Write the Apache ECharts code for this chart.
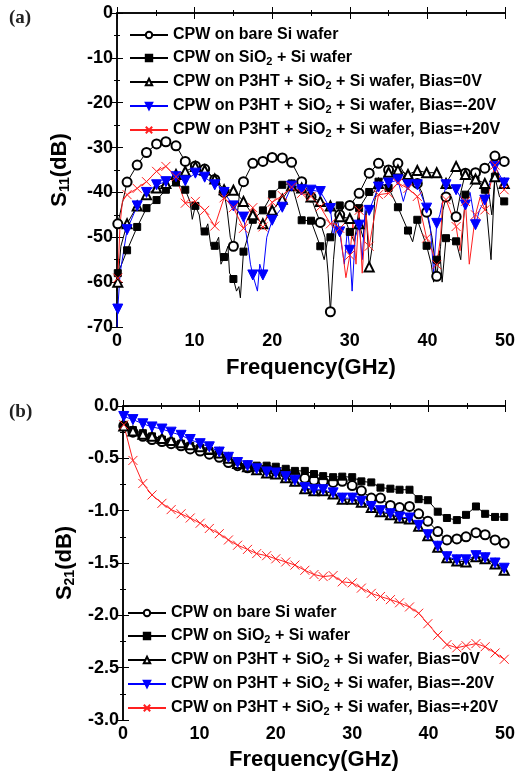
<!DOCTYPE html>
<html>
<head>
<meta charset="utf-8">
<script src="https://cdn.jsdelivr.net/npm/echarts@6/dist/echarts.min.js"></script>
<style>
  html, body { margin: 0; padding: 0; background: #fff; }
  #chart { width: 518px; height: 778px; }
</style>
</head>
<body>
<div id="chart"></div>
<script>
// marker positions (GHz), same grid on every curve
const markFreq = [0.1, 1.3, 2.6, 3.8, 5.1, 6.3, 7.6, 8.8, 10.1, 11.3, 12.6, 13.8, 15.0, 16.3, 17.5, 18.8, 20.0, 21.3, 22.5, 23.8,
  25.0, 26.2, 27.5, 28.7, 30.0, 31.2, 32.5, 33.7, 35.0, 36.2, 37.5, 38.7, 39.9, 41.2, 42.4, 43.7, 44.9, 46.2, 47.4, 48.7, 49.9];

const legendNames = [
  'CPW on bare Si wafer',
  'CPW on SiO2 + Si wafer',
  'CPW on P3HT + SiO2 + Si wafer, Bias=0V',
  'CPW on P3HT + SiO2 + Si wafer, Bias=-20V',
  'CPW on P3HT + SiO2 + Si wafer, Bias=+20V'
];

// (a) S11 (dB) at the markers
const s11Bare = [-47, -37.7, -33.9, -31.1, -29.2, -28.7, -29.6, -33.1, -34.1, -34.8, -37.1, -40, -52, -37.6, -33.5, -33.1, -32.2, -32.3, -33.3, -37.6,
  -41, -46.7, -66.6, -45, -42.9, -40.2, -35.7, -33.5, -35, -33.5, -37, -38, -44.4, -58.7, -41, -45.4, -35.7, -35.6, -34.6, -31.9, -33.1];
const s11SiO2 = [-58, -52.9, -47.7, -43.5, -41.7, -39.4, -37.8, -39.4, -43.0, -48.7, -51.9, -54.4, -59.3, -53.2, -46.1, -44, -40.4, -38.3, -38, -46.2,
  -46.3, -52, -50, -42.9, -48.8, -43.5, -39.9, -37.6, -39, -43.3, -48.5, -46.1, -51.9, -55, -50.2, -50.9, -40.5, -37.3, -39.4, -36.5, -42];
const s11Bias0 = [-60, -47, -43, -40.5, -39, -38, -36, -35.3, -34.2, -35, -37, -39.4, -39.5, -42, -45, -47, -44, -41.5, -38.5, -39,
  -41, -42, -43, -45.4, -45.8, -47, -56.6, -38, -35.5, -35, -36, -35.1, -35.6, -35.6, -38, -34.2, -36, -37, -38, -36.5, -38];
const s11BiasN20 = [-66, -48.3, -43, -40, -38.3, -37.6, -36.5, -37.4, -35.7, -36.6, -38.3, -40, -43, -45.5, -58.4, -58.4, -46.2, -43.3, -38.6, -39.4,
  -39.5, -39.8, -43.6, -48.8, -52.9, -47.3, -44, -38.8, -37.9, -37.2, -38.3, -38.3, -43.5, -46.9, -38.3, -39.4, -42.8, -47.2, -41.7, -34.2, -37.9];
const s11BiasP20 = [-59.1, -40.5, -39.1, -37.6, -35.3, -34.2, -36.5, -42.4, -42.0, -44, -47.5, -41.2, -43.4, -48, -43.4, -47.7, -42.2, -40.7, -38.8, -40.2,
  -40.9, -43.2, -47, -48, -54, -44, -52, -40.5, -40.2, -37.9, -39.1, -40.9, -50.2, -56.1, -41.6, -47.6, -42, -45, -43.9, -33.9, -39.4];

// (a) trace points between markers (noise dips), [GHz, dB]
const s11BareTrace = [[14.2, -44], [14.6, -50], [15.5, -45], [15.8, -40], [24.4, -39], [25.6, -44], [26.8, -50], [27.2, -58], [27.9, -55],
  [28.3, -47], [29.3, -43], [34.4, -34], [39.3, -40], [40.6, -50], [41.7, -52], [42.0, -44], [43.1, -41], [44.3, -40]];
const s11SiO2Trace = [[0, -60], [0.6, -56], [9.4, -42], [9.7, -46], [10.6, -45], [10.9, -49], [11.7, -47], [12.1, -52], [13.1, -50], [13.4, -56],
  [14.3, -52], [14.5, -58], [15.4, -62], [15.7, -61], [15.9, -63.5], [26.7, -55], [27.1, -51], [28.1, -46], [29.4, -46], [30.6, -51],
  [33.1, -40], [38.1, -51], [39.3, -49], [40.5, -56], [40.8, -60], [41.6, -53], [41.9, -60], [44.3, -55], [48.2, -55], [49.3, -41]];
const s11Bias0Trace = [[0, -62], [0.5, -52], [31.7, -50], [32.1, -44], [32.9, -52], [33.2, -42], [47.9, -40], [48.3, -45]];
const s11BiasN20Trace = [[0, -70], [0.4, -58], [13.1, -38.5], [16.9, -52], [17.2, -56], [18.1, -62], [18.4, -56], [19.3, -50], [27.9, -50],
  [28.3, -45], [29.3, -56], [29.7, -48], [30.3, -62], [30.7, -50], [31.6, -55], [32.0, -43], [36.9, -42], [40.4, -48], [40.8, -58],
  [41.6, -45], [45.5, -40], [46.7, -44]];
const s11BiasP20Trace = [[0.4, -47], [0.7, -42], [28.1, -47], [29.5, -59], [30.4, -47], [30.8, -56], [31.6, -58], [32.1, -45], [33.0, -47],
  [40.6, -53], [41.7, -50], [42.0, -41], [44.2, -53], [45.4, -56], [46.8, -41]];

// (b) S21 (dB) at the markers
const s21Bare = [-0.19, -0.25, -0.29, -0.32, -0.34, -0.36, -0.38, -0.41, -0.43, -0.46, -0.49, -0.54, -0.57, -0.59, -0.60, -0.60, -0.62, -0.64, -0.66, -0.69,
  -0.71, -0.72, -0.73, -0.72, -0.76, -0.81, -0.88, -0.88, -0.95, -0.97, -0.96, -1.03, -1.10, -1.20, -1.28, -1.27, -1.25, -1.21, -1.23, -1.28, -1.31];
const s21SiO2 = [-0.18, -0.23, -0.26, -0.29, -0.32, -0.34, -0.36, -0.38, -0.40, -0.43, -0.46, -0.50, -0.54, -0.56, -0.57, -0.57, -0.58, -0.60, -0.62, -0.62,
  -0.65, -0.67, -0.68, -0.675, -0.68, -0.72, -0.73, -0.78, -0.79, -0.80, -0.80, -0.89, -0.90, -1.01, -1.07, -1.09, -1.04, -0.96, -1.03, -1.06, -1.06];
const s21Bias0 = [-0.19, -0.24, -0.27, -0.29, -0.31, -0.33, -0.35, -0.37, -0.39, -0.41, -0.45, -0.50, -0.55, -0.58, -0.61, -0.64, -0.65, -0.685, -0.72, -0.79,
  -0.81, -0.81, -0.84, -0.89, -0.89, -0.92, -0.97, -1.01, -1.04, -1.07, -1.08, -1.15, -1.24, -1.35, -1.45, -1.48, -1.49, -1.44, -1.46, -1.51, -1.57];
const s21BiasN20 = [-0.10, -0.13, -0.17, -0.20, -0.22, -0.25, -0.28, -0.32, -0.36, -0.39, -0.44, -0.49, -0.54, -0.57, -0.60, -0.63, -0.64, -0.675, -0.71, -0.78,
  -0.80, -0.80, -0.83, -0.88, -0.88, -0.91, -0.96, -1.00, -1.03, -1.06, -1.07, -1.14, -1.23, -1.34, -1.44, -1.47, -1.47, -1.43, -1.45, -1.50, -1.55];
const s21BiasP20 = [-0.18, -0.52, -0.74, -0.85, -0.93, -0.99, -1.03, -1.07, -1.12, -1.17, -1.22, -1.28, -1.33, -1.37, -1.41, -1.43, -1.46, -1.49, -1.52, -1.57,
  -1.61, -1.63, -1.62, -1.68, -1.69, -1.74, -1.79, -1.82, -1.85, -1.88, -1.92, -1.98, -2.08, -2.19, -2.28, -2.31, -2.29, -2.27, -2.30, -2.36, -2.42];

const FONT = 'Liberation Sans';
const crossPath = 'path://M0,0L10,10M10,0L0,10';

// marker style of each curve, in legend order
const curveStyles = [
  { color: '#000', symbol: 'emptyCircle', size: 9 },
  { color: '#000', symbol: 'rect', size: 7 },
  { color: '#000', symbol: 'emptyTriangle', size: 9 },
  { color: '#0000ff', symbol: 'triangle', size: 10, rotate: 180 },
  { color: '#ff2020', symbol: crossPath, size: 9 }
];

const buildSeries = (panel, idx, ys, trace) => {
  const st = curveStyles[idx];
  const pts = markFreq.map((f, i) => ({ value: [f, ys[i]] }));
  trace.forEach(p => pts.push({ value: p, symbol: 'none' }));
  pts.sort((a, b) => a.value[0] - b.value[0]);
  return {
    name: panel + idx,
    type: 'line',
    xAxisIndex: panel === 'a' ? 0 : 2,
    yAxisIndex: panel === 'a' ? 0 : 2,
    data: pts,
    symbol: st.symbol,
    symbolSize: st.size,
    symbolRotate: st.rotate || 0,
    showSymbol: true,
    showAllSymbol: true,
    lineStyle: { color: st.color, width: 1 },
    itemStyle: { color: st.color, borderColor: st.color, borderWidth: 1 },
    emphasis: { disabled: true },
    animation: false
  };
};

const richText = {
  t: { fontFamily: FONT, fontWeight: 'bold', fontSize: 16, lineHeight: 18, color: '#000' },
  s: { fontFamily: FONT, fontWeight: 'bold', fontSize: 11, lineHeight: 7, verticalAlign: 'bottom', color: '#000' }
};

const legendFormatter = (name) => {
  const label = legendNames[Number(name.slice(1))];
  return '{t|' + label.replace(/SiO2/g, 'SiO}{s|2}{t|') + '}';
};

const makeLegend = (panel, left, top, gap) => ({
  data: [0, 1, 2, 3, 4].map(i => panel + i),
  orient: 'vertical',
  left: left,
  top: top,
  itemWidth: 38,
  itemHeight: 8,
  itemGap: gap,
  selectedMode: false,
  formatter: legendFormatter,
  textStyle: { rich: richText }
});

const tickLabel = { fontFamily: FONT, fontWeight: 'bold', fontSize: 18, color: '#000' };
const axisLine = { lineStyle: { color: '#000', width: 1.5 } };

const xAxisPair = (grid, gap) => [
  {
    gridIndex: grid, type: 'value', min: 0, max: 50, interval: 10, position: 'bottom',
    axisLine: axisLine,
    axisTick: { inside: true, length: 6, lineStyle: { color: '#000' } },
    minorTick: { show: true, splitNumber: 2, length: 3, lineStyle: { color: '#000' } },
    splitLine: { show: false },
    axisLabel: { margin: 5, ...tickLabel },
    name: 'Frequency(GHz)', nameLocation: 'middle', nameGap: gap,
    nameTextStyle: { fontFamily: FONT, fontWeight: 'bold', fontSize: 22, color: '#000' }
  },
  {
    gridIndex: grid, type: 'value', min: 0, max: 50, interval: 10, position: 'top',
    axisLine: axisLine,
    axisTick: { inside: true, length: 6, lineStyle: { color: '#000' } },
    minorTick: { show: true, splitNumber: 2, length: 3, lineStyle: { color: '#000' } },
    splitLine: { show: false },
    axisLabel: { show: false }
  }
];

const yAxisPair = (grid, min, interval, digits, title, gap) => [
  {
    gridIndex: grid, type: 'value', min: min, max: 0, interval: interval, position: 'left',
    axisLine: axisLine,
    axisTick: { inside: true, length: 6, lineStyle: { color: '#000' } },
    minorTick: { show: true, splitNumber: 2, length: 3, lineStyle: { color: '#000' } },
    splitLine: { show: false },
    axisLabel: { margin: 4, formatter: v => v.toFixed(digits), ...tickLabel },
    name: title, nameLocation: 'middle', nameGap: gap, nameRotate: 90,
    nameTextStyle: {
      rich: {
        a: { fontFamily: FONT, fontWeight: 'bold', fontSize: 22, lineHeight: 24, color: '#000' },
        s: { fontFamily: FONT, fontWeight: 'bold', fontSize: 14, lineHeight: 9, verticalAlign: 'bottom', color: '#000' }
      }
    }
  },
  {
    gridIndex: grid, type: 'value', min: min, max: 0, interval: interval, position: 'right',
    axisLine: axisLine,
    axisTick: { inside: true, length: 6, lineStyle: { color: '#000' } },
    minorTick: { show: true, splitNumber: 2, length: 3, lineStyle: { color: '#000' } },
    splitLine: { show: false },
    axisLabel: { show: false }
  }
];

const chart = echarts.init(document.getElementById('chart'), null, { renderer: 'canvas' });

const option = {
  backgroundColor: '#fff',
  animation: false,
  grid: [
    { left: 117, top: 13, width: 391, height: 314 },
    { left: 123, top: 406, width: 383, height: 314 }
  ],
  xAxis: [...xAxisPair(0, 30), ...xAxisPair(1, 29)],
  yAxis: [
    ...yAxisPair(0, -70, 10, 0, '{a|S}{s|11}{a|(dB)}', 45),
    ...yAxisPair(1, -3, 0.5, 1, '{a|S}{s|21}{a|(dB)}', 44)
  ],
  legend: [makeLegend('a', 124, 22, 7), makeLegend('b', 122, 600, 7)],
  graphic: [
    { type: 'text', left: 9, top: 9, style: { text: '(a)', font: 'bold 19px "Liberation Serif"', fill: '#222' } },
    { type: 'text', left: 9, top: 403, style: { text: '(b)', font: 'bold 19px "Liberation Serif"', fill: '#222' } }
  ],
  series: [
    buildSeries('a', 0, s11Bare, s11BareTrace),
    buildSeries('a', 1, s11SiO2, s11SiO2Trace),
    buildSeries('a', 2, s11Bias0, s11Bias0Trace),
    buildSeries('a', 3, s11BiasN20, s11BiasN20Trace),
    buildSeries('a', 4, s11BiasP20, s11BiasP20Trace),
    buildSeries('b', 0, s21Bare, []),
    buildSeries('b', 1, s21SiO2, []),
    buildSeries('b', 2, s21Bias0, []),
    buildSeries('b', 3, s21BiasN20, []),
    buildSeries('b', 4, s21BiasP20, [])
  ]
};

chart.setOption(option);
</script>
</body>
</html>
